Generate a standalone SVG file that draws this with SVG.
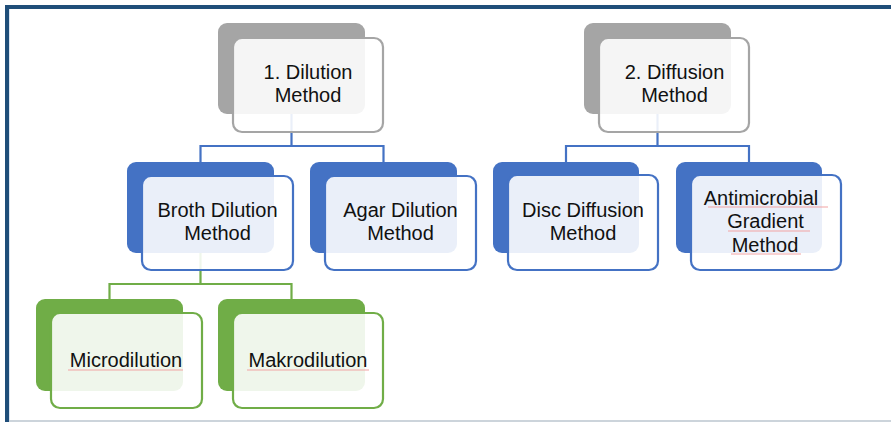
<svg xmlns="http://www.w3.org/2000/svg" width="891" height="422" viewBox="0 0 891 422">
  <style>
    .back { stroke: none; }
    .front { fill: #ffffff; fill-opacity: 0.89; stroke-width: 2.2; }
    .gray .back { fill: #a5a5a5; }
    .gray .front { stroke: #a5a5a5; }
    .blue .back { fill: #4472c4; }
    .blue .front { stroke: #4472c4; }
    .green .back { fill: #70ad47; }
    .green .front { stroke: #70ad47; }
    .lbl { font-family: "Liberation Sans", Arial, sans-serif; font-size: 20px; fill: #111111; text-anchor: middle; }
    .conn { fill: none; stroke-width: 2.2; }
    .conn.b { stroke: #4472c4; }
    .conn.g { stroke: #70ad47; }
    .spell { stroke: #f2a3a3; stroke-width: 1; fill: none; }
  </style>

  <rect x="0" y="0" width="891" height="422" fill="#ffffff"/>

  <!-- frame -->
  <rect x="5" y="5" width="886" height="4" fill="#1f4e79"/>
  <rect x="5" y="5" width="4" height="417" fill="#1f4e79"/>
  <rect x="9" y="9" width="1" height="413" fill="#dbe5f1"/>
  <rect x="9" y="420" width="882" height="2" fill="#ccd4db"/>

  <!-- connectors -->
  <g id="connectors">
    <path class="conn b" d="M291.5,114 V146 M200.5,162 V146 H383.5 V162"/>
    <path class="conn b" d="M657.5,114 V146 M566,162 V146 H749 V162"/>
    <path class="conn g" d="M200.5,253 V284 M109.5,299 V284 H291.5 V299"/>
  </g>

  <g id="dilution" class="gray">
    <rect class="back" x="218" y="23" width="147" height="91" rx="9"/>
    <rect class="front" x="233" y="38" width="150" height="94" rx="9"/>
    <text class="lbl" x="308" y="79">1. Dilution</text>
    <text class="lbl" x="308" y="102">Method</text>
  </g>

  <g id="diffusion" class="gray">
    <rect class="back" x="584" y="23" width="147" height="91" rx="9"/>
    <rect class="front" x="599" y="38" width="150" height="94" rx="9"/>
    <text class="lbl" x="674.5" y="79">2. Diffusion</text>
    <text class="lbl" x="674.5" y="102">Method</text>
  </g>

  <g id="broth" class="blue">
    <rect class="back" x="127" y="162" width="147" height="91" rx="9"/>
    <rect class="front" x="142" y="176" width="151" height="94" rx="9"/>
    <text class="lbl" x="217.5" y="217">Broth Dilution</text>
    <text class="lbl" x="217.5" y="240">Method</text>
  </g>

  <g id="agar" class="blue">
    <rect class="back" x="310" y="162" width="147" height="91" rx="9"/>
    <rect class="front" x="325" y="176" width="151" height="94" rx="9"/>
    <text class="lbl" x="400.5" y="217">Agar Dilution</text>
    <text class="lbl" x="400.5" y="240">Method</text>
  </g>

  <g id="disc" class="blue">
    <rect class="back" x="493" y="162" width="146" height="91" rx="9"/>
    <rect class="front" x="508" y="175" width="150" height="95" rx="9"/>
    <text class="lbl" x="583" y="217">Disc Diffusion</text>
    <text class="lbl" x="583" y="240">Method</text>
  </g>

  <g id="gradient" class="blue">
    <rect class="back" x="676" y="162" width="146" height="91" rx="9"/>
    <rect class="front" x="691" y="175" width="150" height="95" rx="9"/>
    <text class="lbl" x="761" y="205">Antimicrobial</text>
    <text class="lbl" x="765.5" y="228">Gradient</text>
    <text class="lbl" x="765" y="252">Method</text>
    <!-- spell-check underlines -->
    <path class="spell" d="M708,207 H828 M728,231 H810 M731,254 H801"/>
  </g>

  <g id="micro" class="green">
    <rect class="back" x="36" y="299" width="147" height="92" rx="9"/>
    <rect class="front" x="51" y="313" width="151" height="95" rx="9"/>
    <text class="lbl" x="126" y="367">Microdilution</text>
    <path class="spell" d="M68,370 H183"/>
  </g>

  <g id="makro" class="green">
    <rect class="back" x="218" y="299" width="147" height="92" rx="9"/>
    <rect class="front" x="233" y="313" width="150" height="95" rx="9"/>
    <text class="lbl" x="308" y="367">Makrodilution</text>
    <path class="spell" d="M247,370 H369"/>
  </g>
</svg>
